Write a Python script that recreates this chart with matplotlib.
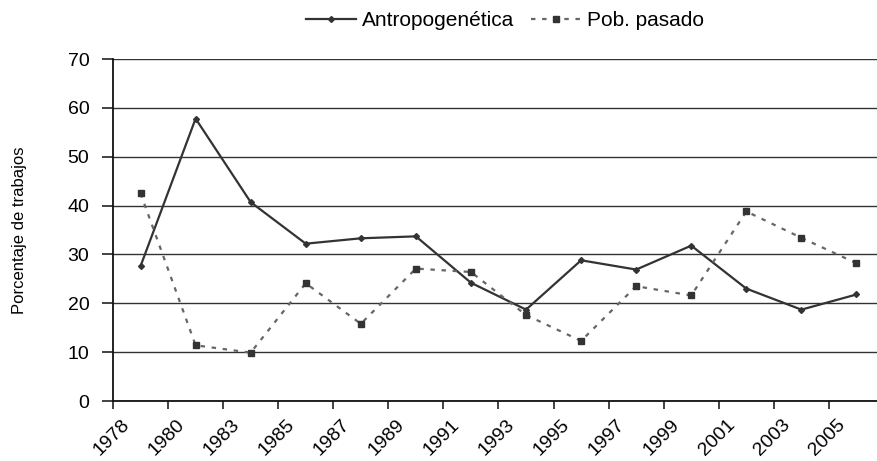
import matplotlib
matplotlib.use("Agg")
import matplotlib.pyplot as plt
from matplotlib.transforms import ScaledTranslation

plt.rcParams['font.family'] = ['Liberation Sans', 'DejaVu Sans']

years = ['1978', '1980', '1983', '1985', '1987', '1989', '1991', '1993',
         '1995', '1997', '1999', '2001', '2003', '2005']
antropogenetica = [27.6, 57.8, 40.7, 32.2, 33.3, 33.7, 24.2, 18.7,
                   28.8, 26.9, 31.8, 23.0, 18.7, 21.8]
pob_pasado = [42.5, 11.4, 9.9, 24.1, 15.8, 27.1, 26.4, 17.6,
              12.3, 23.5, 21.6, 38.8, 33.4, 28.2]

W, H = 877, 461
fig = plt.figure(figsize=(W / 100, H / 100), dpi=100)
ax = fig.add_axes([113 / W, (H - 401) / H, (884 - 113) / W, (401 - 59) / H])

x = list(range(len(years)))
ax.plot(x, antropogenetica, color='#333333', lw=1.6, marker='D', ms=3,
        label='Antropogenética', zorder=3)
ax.plot(x, pob_pasado, color='#666666', lw=1.6, ls=(0, (2, 3)), marker='s',
        ms=5, mfc='#333333', mec='#333333', label='Pob. pasado', zorder=3)

ax.set_xlim(-0.5, len(years) - 0.5)
ax.set_ylim(0, 70)
ax.set_yticks(range(0, 71, 10))
ax.yaxis.grid(True, color='#333333', lw=1.0)
ax.set_axisbelow(True)

# category boundary ticks, labels under the categories
ax.set_xticks([i - 0.5 for i in x])
ax.set_xticklabels([])
ax.set_xticks(x, minor=True)
ax.set_xticklabels(years, minor=True, rotation=45, ha='right', va='top',
                   rotation_mode='anchor', fontsize=14)
ax.tick_params(axis='x', which='minor', length=0, pad=11)
ax.tick_params(axis='x', which='major', length=6, width=1.2, color='#222222')
ax.tick_params(axis='y', length=8, width=1.2, color='#222222', labelsize=14, pad=9)
shift = ScaledTranslation(-20 / 100, 0, fig.dpi_scale_trans)
for lab in ax.get_xticklabels(minor=True):
    lab.set_transform(lab.get_transform() + shift)

for s in ['top', 'right']:
    ax.spines[s].set_visible(False)
for s in ['left', 'bottom']:
    ax.spines[s].set_color('#111111')
    ax.spines[s].set_linewidth(1.3)

fig.text(20 / W, 0.5, 'Porcentaje de trabajos', rotation=90, va='center',
         ha='center', fontsize=12)

fig.legend(loc='center', bbox_to_anchor=(505 / W, 1 - 21 / H), ncol=2,
           frameon=False, fontsize=15, handlelength=2.4, columnspacing=0.8,
           handletextpad=0.3)

fig.savefig('out.png', dpi=100)
